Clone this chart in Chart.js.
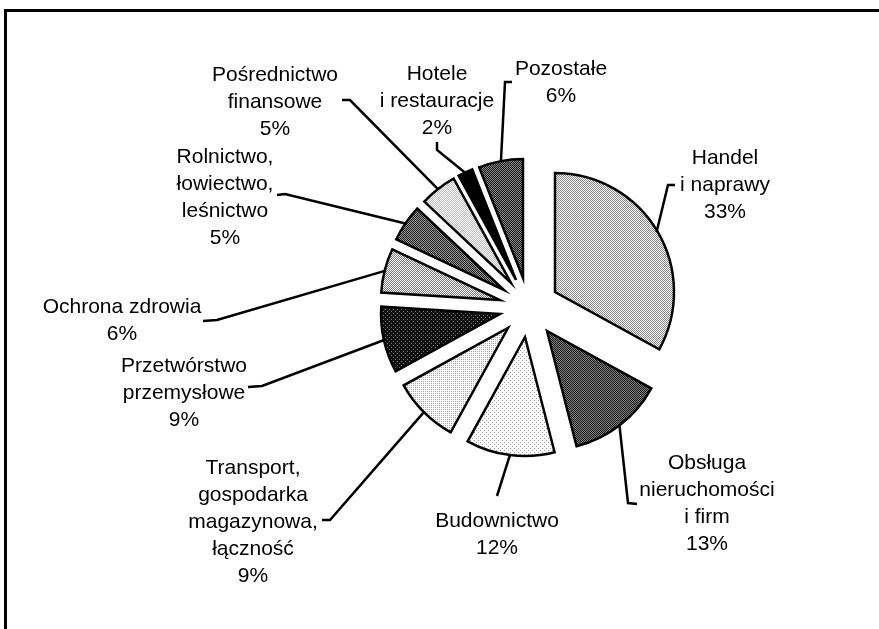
<!DOCTYPE html>
<html>
<head>
<meta charset="utf-8">
<script src="https://cdn.jsdelivr.net/npm/chart.js@4.4.1/dist/chart.umd.min.js"></script>
<style>
    body { margin: 0; background: #fff; }
    #wrap { position: relative; width: 879px; height: 629px; }
    #frame {
        position: absolute; left: 4px; top: 9px; right: 0; bottom: 0;
        border-left: 3px solid #000; border-top: 3px solid #000;
    }
    canvas { position: absolute; left: 0; top: 0; }
</style>
</head>
<body>
<div id="wrap">
    <div id="frame"></div>
    <canvas id="chart" width="879" height="629"></canvas>
</div>
<script>
// data, clockwise from 12 o'clock
const categories = [
    ['Handel', 'i naprawy'],
    ['Obsługa', 'nieruchomości', 'i firm'],
    ['Budownictwo'],
    ['Transport,', 'gospodarka', 'magazynowa,', 'łączność'],
    ['Przetwórstwo', 'przemysłowe'],
    ['Ochrona zdrowia'],
    ['Rolnictwo,', 'łowiectwo,', 'leśnictwo'],
    ['Pośrednictwo', 'finansowe'],
    ['Hotele', 'i restauracje'],
    ['Pozostałe']
];
const shares = [33, 13, 12, 9, 9, 6, 5, 5, 2, 6];

// styles / layout
const EXPLODE = 30;
const LINE_H = 27;
const FONT = '21px "Liberation Sans", Arial, sans-serif';

// halftone-like fills: [type, background, dot colour]
const fills = [
    ['check', '#ffffff', '#858585'],
    ['check', '#1a1a1a', '#7e7e7e'],
    ['grid', '#ffffff', '#9a9a9a'],
    ['grid4', '#ffffff', '#a6a6a6'],
    ['grid', '#0e0e0e', '#808080'],
    ['check', '#ffffff', '#767676'],
    ['check', '#1e1e1e', '#999999'],
    ['check', '#ffffff', '#bdbdbd'],
    ['solid', '#000000'],
    ['check', '#1a1a1a', '#868686']
];

// label centres (first line) and leader line points, text side first
const labelPos = [
    { x: 725, y: 158, lead: [[675, 185], [668, 185]] },
    { x: 707, y: 463, lead: [[637, 504], [628, 503]] },
    { x: 497, y: 521, lead: [[497, 496]] },
    { x: 253, y: 468, lead: [[322, 520], [330, 520]] },
    { x: 184, y: 366, lead: [[248, 387], [262, 386]] },
    { x: 122, y: 307, lead: [[203, 321], [217, 320]] },
    { x: 225, y: 157, lead: [[277, 195], [285, 194]] },
    { x: 275, y: 75, lead: [[342, 100], [350, 100]] },
    { x: 437, y: 74, lead: [[437, 142], [437, 150]] },
    { x: 561, y: 69, lead: [[512, 82], [505, 82]] }
];

function makeFill(spec) {
    const type = spec[0];
    if (type === 'solid') return spec[1];
    const size = type === 'check' ? 2 : 4;
    const c = document.createElement('canvas');
    c.width = size;
    c.height = size;
    const g = c.getContext('2d');
    g.fillStyle = spec[1];
    g.fillRect(0, 0, size, size);
    g.fillStyle = spec[2];
    if (type === 'check') {
        g.fillRect(1, 0, 1, 1);
        g.fillRect(0, 1, 1, 1);
    } else if (type === 'grid') {
        g.fillRect(0, 0, 1, 1);
        g.fillRect(2, 2, 1, 1);
    } else {
        g.fillRect(0, 0, 1, 1);
        g.fillRect(2, 2, 1, 1);
        g.fillRect(2, 0, 1, 1);
        g.fillRect(0, 2, 1, 1);
    }
    return g.createPattern(c, 'repeat');
}

function shift(arc) {
    const mid = (arc.startAngle + arc.endAngle) / 2;
    return [Math.round(Math.cos(mid) * EXPLODE), Math.round(Math.sin(mid) * EXPLODE), mid];
}

// draw every slice pulled out along its mid angle
const explodePlugin = {
    id: 'explode',
    beforeDatasetDraw(chart, args) {
        const ctx = chart.ctx;
        args.meta.data.forEach(arc => {
            const [dx, dy] = shift(arc);
            ctx.save();
            ctx.translate(dx, dy);
            arc.draw(ctx);
            ctx.restore();
        });
        return false;
    }
};

const labelPlugin = {
    id: 'labels',
    afterDatasetsDraw(chart) {
        const ctx = chart.ctx;
        const arcs = chart.getDatasetMeta(0).data;
        ctx.save();
        ctx.strokeStyle = '#000';
        ctx.lineWidth = 2.5;
        ctx.lineJoin = 'miter';
        arcs.forEach((arc, i) => {
            const [dx, dy, mid] = shift(arc);
            const r = arc.outerRadius - 1;
            const ex = arc.x + dx + Math.cos(mid) * r;
            const ey = arc.y + dy + Math.sin(mid) * r;
            const pts = labelPos[i].lead;
            ctx.beginPath();
            ctx.moveTo(pts[0][0], pts[0][1]);
            for (let k = 1; k < pts.length; k++) ctx.lineTo(pts[k][0], pts[k][1]);
            ctx.lineTo(ex, ey);
            ctx.stroke();
        });
        ctx.fillStyle = '#000';
        ctx.font = FONT;
        ctx.textAlign = 'center';
        ctx.textBaseline = 'middle';
        categories.forEach((lines, i) => {
            const p = labelPos[i];
            const all = lines.concat([shares[i] + '%']);
            all.forEach((t, k) => ctx.fillText(t, p.x, p.y + k * LINE_H));
        });
        ctx.restore();
    }
};

new Chart(document.getElementById('chart'), {
    type: 'pie',
    data: {
        labels: categories,
        datasets: [{
            data: shares,
            backgroundColor: fills.map(makeFill),
            borderColor: '#000',
            borderWidth: 2.5,
            borderJoinStyle: 'miter'
        }]
    },
    options: {
        responsive: false,
        devicePixelRatio: 1,
        animation: false,
        events: [],
        radius: 119,
        layout: { padding: { left: 179, right: 0, top: 0, bottom: 15 } },
        plugins: {
            legend: { display: false },
            tooltip: { enabled: false }
        }
    },
    plugins: [explodePlugin, labelPlugin]
});
</script>
</body>
</html>
